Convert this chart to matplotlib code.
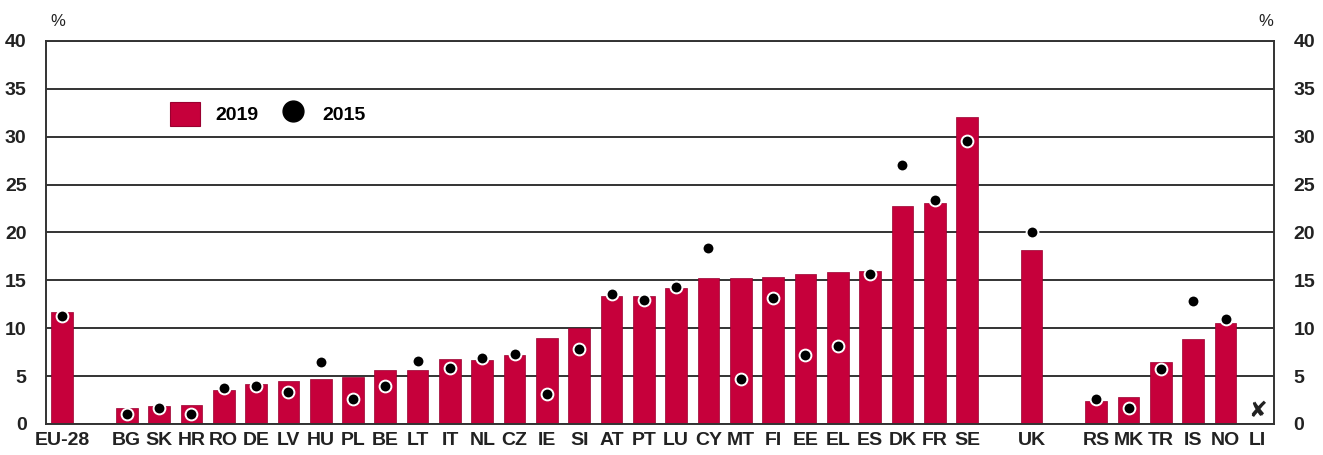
import matplotlib.pyplot as plt
from matplotlib.patches import Patch
from matplotlib.lines import Line2D

# groups of countries, separated by one empty slot on the axis
eu_total = ["EU-28"]
eu_members = ["BG", "SK", "HR", "RO", "DE", "LV", "HU", "PL", "BE", "LT", "IT", "NL", "CZ",
              "IE", "SI", "AT", "PT", "LU", "CY", "MT", "FI", "EE", "EL", "ES", "DK", "FR", "SE"]
uk = ["UK"]
others = ["RS", "MK", "TR", "IS", "NO", "LI"]

val_2019 = [11.7,
            1.7, 1.85, 2.0, 3.55, 4.2, 4.5, 4.7, 4.95, 5.6, 5.6, 6.75, 6.7, 7.2,
            9.0, 10.05, 13.4, 13.4, 14.2, 15.2, 15.3, 15.4, 15.7, 15.9, 16.0, 22.8, 23.05, 32.1,
            18.2,
            2.35, 2.8, 6.5, 8.9, 10.5, None]
val_2015 = [11.3,
            1.0, 1.7, 1.0, 3.8, 4.0, 3.3, 6.5, 2.6, 4.0, 6.6, 5.9, 6.9, 7.3,
            3.1, 7.8, 13.6, 13.0, 14.3, 18.4, 4.7, 13.2, 7.2, 8.1, 15.7, 27.1, 23.4, 29.6,
            20.0,
            2.6, 1.7, 5.75, 12.8, 11.0, None]

labels = []
pos = []
slot = 0
for grp in [eu_total, eu_members, uk, others]:
    for c in grp:
        labels.append(c)
        pos.append(slot)
        slot += 1
    slot += 1

red = "#c6003b"
plt.rcParams["font.family"] = ["Liberation Sans Narrow", "Liberation Sans", "DejaVu Sans"]

fig = plt.figure(figsize=(13.23, 4.55), dpi=100)
ax = fig.add_axes([46 / 1323, 31 / 455, 1228 / 1323, 383 / 455])

for x, v19, v15 in zip(pos, val_2019, val_2015):
    if v19 is None:
        # not available
        ax.text(x, 0.3, "\u2718", ha="center", va="bottom", fontsize=16,
                color="#222222", family=["DejaVu Sans"], style="italic")
        continue
    ax.bar(x, v19, width=0.67, color=red, edgecolor="#9a0030", linewidth=0.5, zorder=2)
    ax.plot(x, v15, "o", color="black", ms=8.5, mec="white", mew=1.4, zorder=3)

ax.set_xlim(-0.5, 37.5)
ax.set_ylim(0, 40)
ax.set_yticks(range(0, 41, 5))
ax.yaxis.grid(True, color="#333333", linewidth=1.4, zorder=1)
ax.set_axisbelow(True)
for s in ax.spines.values():
    s.set_color("#333333")
    s.set_linewidth(1.4)

ax.set_xticks(pos)
ax.set_xticklabels(labels, fontsize=14, fontweight="bold", color="#222222")
ax.tick_params(axis="x", length=0, pad=6)
ax.tick_params(axis="y", length=0, pad=14, labelsize=14, labelcolor="#222222",
               right=True, labelright=True)
for lab in ax.yaxis.get_ticklabels():
    lab.set_fontweight("bold")

fig.text(58 / 1323, 1 - 21 / 455, "%", ha="center", va="center", fontsize=12, color="#222222")
fig.text(1266 / 1323, 1 - 21 / 455, "%", ha="center", va="center", fontsize=12, color="#222222")

handles = [Patch(facecolor=red, edgecolor="#9a0030", linewidth=0.8),
           Line2D([], [], marker="o", color="black", ls="none", ms=15)]
ax.legend(handles, ["2019", "2015"], ncol=2, frameon=False, loc="center left",
          bbox_to_anchor=(0.087, 0.81), handlelength=1.55, handleheight=1.55,
          handletextpad=0.75, columnspacing=1.0,
          prop={"weight": "bold", "size": 14})

fig.savefig("out.png", dpi=100)
